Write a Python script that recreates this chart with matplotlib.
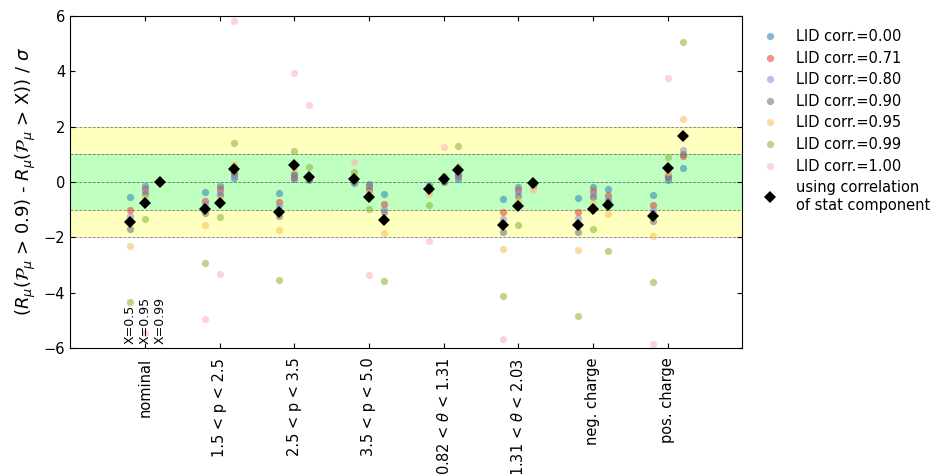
import numpy as np
import matplotlib
matplotlib.use("Agg")
import matplotlib.pyplot as plt

categories = ["nominal", "1.5 < p < 2.5", "2.5 < p < 3.5", "3.5 < p < 5.0",
              r"0.82 < $\theta$ < 1.31", r"1.31 < $\theta$ < 2.03",
              "neg. charge", "pos. charge"]
x_labels = ["X=0.5", "X=0.95", "X=0.99"]
lid_corr = ["0.00", "0.71", "0.80", "0.90", "0.95", "0.99", "1.00"]

# one row per category, columns are X=0.5, X=0.95, X=0.99
corr_000 = [[-0.55, -0.13, 0.0], [-0.37, -0.13, 0.16], [-0.41, 0.10, 0.07], [-0.02, -0.08, -0.43],
            [-0.11, 0.00, 0.10], [-0.60, -0.17, -0.05], [-0.59, -0.17, -0.27], [-0.46, 0.07, 0.50]]
corr_071 = [[-1.01, -0.25, 0.0], [-0.68, -0.25, 0.28], [-0.73, 0.19, 0.12], [0.05, -0.13, -0.80],
            [-0.18, 0.05, 0.22], [-1.10, -0.29, -0.08], [-1.08, -0.33, -0.47], [-0.83, 0.20, 0.93]]
corr_080 = [[-1.22, -0.33, 0.0], [-0.81, -0.37, 0.23], [-0.86, 0.25, 0.15], [0.07, -0.20, -0.98],
            [-0.22, 0.07, 0.25], [-1.32, -0.36, -0.10], [-1.30, -0.42, -0.57], [-1.01, 0.25, 1.14]]
corr_090 = [[-1.70, -0.44, 0.0], [-1.13, -0.47, 0.35], [-1.24, 0.30, 0.15], [0.10, -0.29, -1.10],
            [-0.30, 0.08, 0.30], [-1.81, -0.51, -0.12], [-1.81, -0.55, -0.68], [-1.42, 0.18, 1.02]]
corr_095 = [[-2.32, -0.57, 0.0], [-1.55, -0.61, 0.65], [-1.72, 0.50, 0.20], [0.30, -0.41, -1.84],
            [-0.43, 0.15, 0.59], [-2.41, -0.69, -0.22], [-2.47, -0.75, -1.16], [-1.96, 0.37, 2.28]]
corr_099 = [[-4.33, -1.33, 0.0], [-2.93, -1.28, 1.42], [-3.55, 1.12, 0.53], [0.37, -0.97, -3.58],
            [-0.83, 0.20, 1.29], [-4.12, -1.57, -0.10], [-4.85, -1.70, -2.48], [-3.60, 0.91, 5.08]]
corr_100 = [[np.nan, -5.47, 0.0], [-4.95, -3.32, 5.81], [np.nan, 3.93, 2.77], [0.71, -3.37, np.nan],
            [-2.14, 1.26, np.nan], [-5.66, np.nan, -0.30], [np.nan, np.nan, np.nan], [-5.87, 3.76, np.nan]]
stat_corr = [[-1.46, -0.75, 0.0], [-0.98, -0.75, 0.48], [-1.07, 0.61, 0.18], [0.11, -0.53, -1.39],
             [-0.25, 0.10, 0.42], [-1.56, -0.88, -0.04], [-1.56, -0.97, -0.83], [-1.22, 0.52, 1.67]]

series = [corr_000, corr_071, corr_080, corr_090, corr_095, corr_099, corr_100]
colors = ["#348ABD", "#E24A33", "#988ED5", "#777777", "#FBC15E", "#8EBA42", "#FFB5B8"]

offsets = np.array([-0.2, 0.0, 0.2])
xpos = np.arange(len(categories))[:, None] + offsets[None, :]

fig = plt.figure(figsize=(9.36, 4.74), dpi=100)
ax = fig.add_axes([0.075, 0.266, 0.718, 0.700])

# 1 and 2 sigma bands
ax.axhspan(1, 2, color="yellow", alpha=0.25, lw=0, zorder=0)
ax.axhspan(-2, -1, color="yellow", alpha=0.25, lw=0, zorder=0)
ax.axhspan(-1, 1, color="lime", alpha=0.25, lw=0, zorder=0)
for yv in [-2, -1, 0, 1, 2]:
    ax.axhline(yv, color="k", ls="--", lw=0.6, alpha=0.5, zorder=1)

for vals, col, lab in zip(series, colors, lid_corr):
    ax.plot(xpos.ravel(), np.array(vals).ravel(), "o", color=col, alpha=0.6,
            ms=5.2, mew=0, label="LID corr.=" + lab, zorder=2)
ax.plot(xpos.ravel(), np.array(stat_corr).ravel(), "D", color="k", ms=6.2, mew=0,
        label="using correlation\nof stat component", zorder=3)

for xo, t in zip(offsets, x_labels):
    ax.text(xo, -5.85, t, rotation=90, ha="center", va="bottom", fontsize=9, zorder=4)

ax.set_xlim(-1, 8)
ax.set_ylim(-6, 6)
ax.set_xticks(range(len(categories)))
ax.set_xticklabels(categories, rotation=90, fontsize=10)
ax.set_yticks(range(-6, 7, 2))
ax.tick_params(direction="in", top=True, right=True, labelsize=10.5)
ax.tick_params(axis="x", pad=7)
ax.set_ylabel(r"$(R_\mu(\mathcal{P}_\mu$ > 0.9) - $R_\mu(\mathcal{P}_\mu$ > X)) / $\sigma$",
              fontsize=13)
ax.legend(loc="upper left", bbox_to_anchor=(1.0, 1.0), frameon=False, numpoints=1,
          fontsize=10.5, handletextpad=0.8, labelspacing=0.45)

fig.savefig("out.png", dpi=100)
